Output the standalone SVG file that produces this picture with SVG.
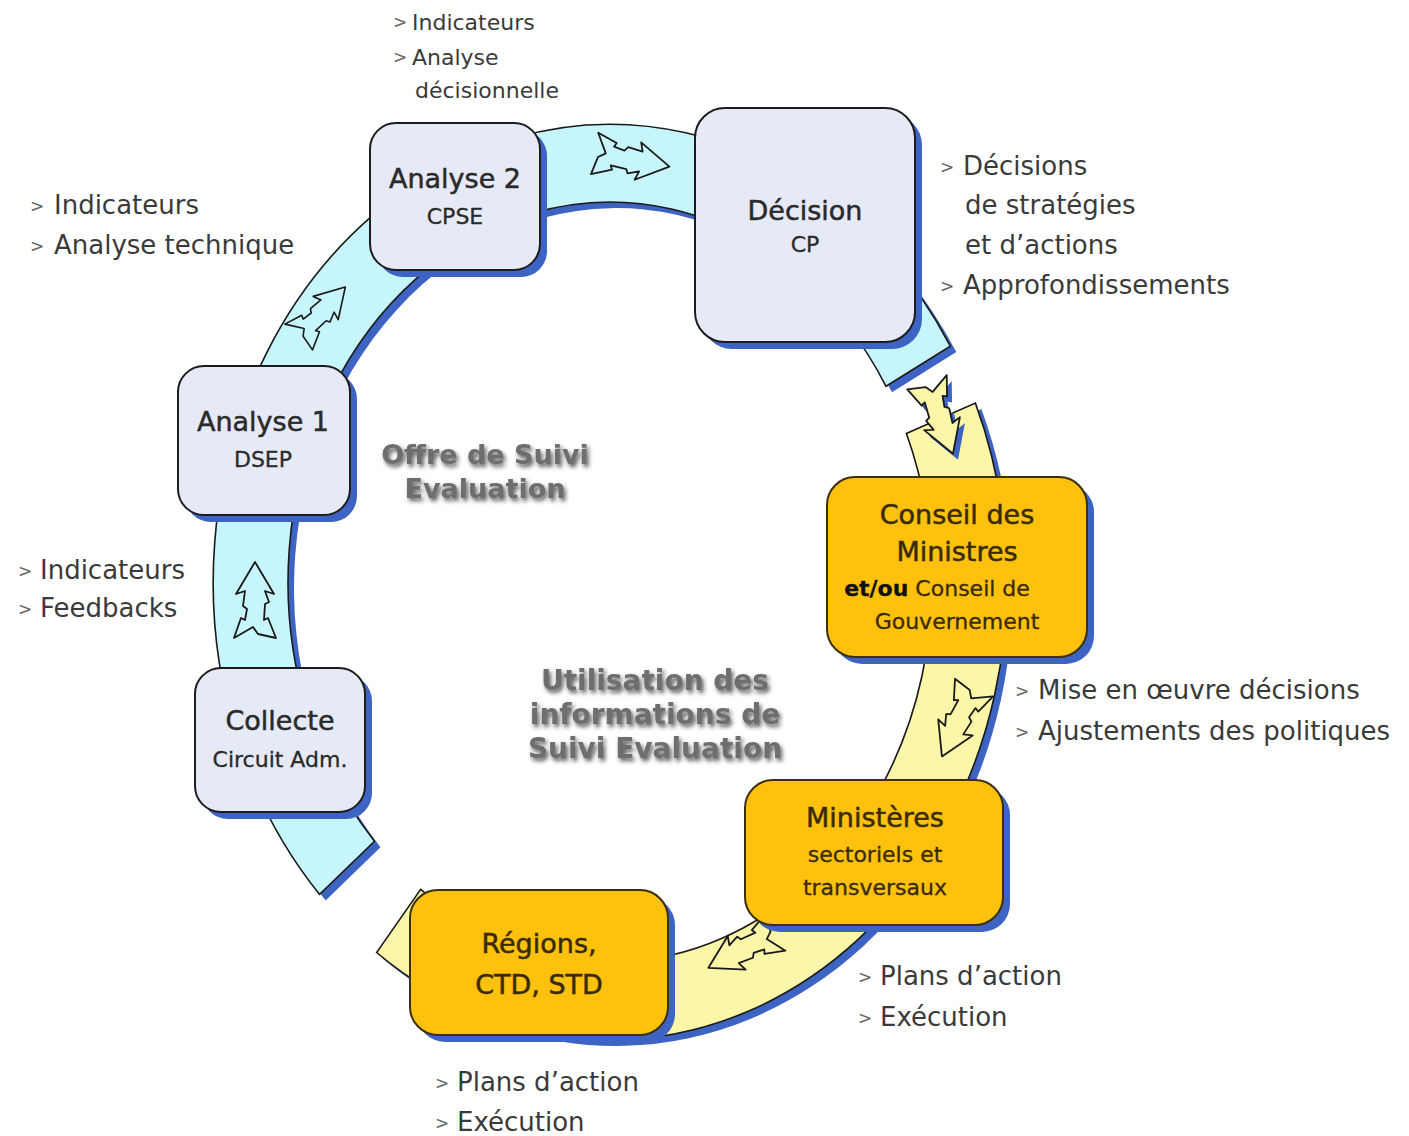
<svg xmlns="http://www.w3.org/2000/svg" width="1409" height="1136" viewBox="0 0 1409 1136">
<defs>
<style>
.lbl{font-family:"DejaVu Sans",sans-serif;fill:#2a2a2a}
.tt{font-size:27px;text-anchor:middle;stroke:#2a2a2a;stroke-width:0.5}
.st{font-size:22px;text-anchor:middle;stroke:#2a2a2a;stroke-width:0.3}
.gt{fill:#3a2a00;stroke:#3a2a00}
.note{font-family:"DejaVu Sans",sans-serif;font-size:26px;fill:#3a3a3a}
.chev{font-family:"DejaVu Sans",sans-serif;font-size:17px;fill:#666}
.ctr{font-family:"DejaVu Sans",sans-serif;font-weight:bold;font-size:28px;fill:#6e6e6e;text-anchor:middle}
.shadow{fill:#3d64c2}
.band-c{fill:#c6f6fc;stroke:#1a1a1a;stroke-width:1.6}
.band-y{fill:#fbf6a8;stroke:#1a1a1a;stroke-width:1.6}
.box-b{fill:#e6eaf6;stroke:#1c1c1c;stroke-width:2}
.box-g{fill:#fdc10e;stroke:#3c3000;stroke-width:2}
.arr{fill:none;stroke:#1a1a1a;stroke-width:1.8;stroke-linejoin:round}
</style>
<path id="arrow" d="M38,0 L6,-19 L9,-10 L-6,-12 L-9,-8 L-20,-10 L-18,-14 L-38,-21 L-27,-2 L-34,3 L-38,21 L-18,13 L-20,9 L-4,10 L-2,14 L9,10 L6,19 Z"/>
<filter id="tshadow" x="-10%" y="-30%" width="120%" height="160%">
<feGaussianBlur in="SourceAlpha" stdDeviation="2.2" result="b"/>
<feOffset in="b" dx="2" dy="3" result="o"/>
<feFlood flood-color="#202020" flood-opacity="0.75"/>
<feComposite in2="o" operator="in" result="s"/>
<feMerge><feMergeNode in="s"/><feMergeNode in="SourceGraphic"/></feMerge>
</filter>
</defs>
<rect width="1409" height="1136" fill="#ffffff"/>

<g id="connectors">
<!-- ring shadows -->
<g transform="translate(6,6)" class="shadow">
<path d="M319.6,894.4 A397,458 0 1 1 950.3,346.1 L886,386.3 A322,380 0 1 0 374.5,841.2 Z"/>
<path d="M975.4,403.1 A397,458 0 0 1 376.6,952.5 L420.7,889.4 A322,380 0 0 0 906.4,433.5 Z"/>
</g>
<!-- cyan band: Collecte to Décision -->
<path class="band-c" d="M319.6,894.4 A397,458 0 1 1 950.3,346.1 L886,386.3 A322,380 0 1 0 374.5,841.2 Z"/>
<!-- yellow band: Décision to Régions -->
<path class="band-y" d="M975.4,403.1 A397,458 0 0 1 376.6,952.5 L420.7,889.4 A322,380 0 0 0 906.4,433.5 Z"/>
<!-- flow arrows -->
<use href="#arrow" class="arr" transform="translate(255,600) rotate(-90)"/>
<use href="#arrow" class="arr" transform="translate(322,312) rotate(-47) scale(0.9)"/>
<use href="#arrow" class="arr" transform="translate(632,160) rotate(10)"/>
<use href="#arrow" class="shadow" transform="translate(945,424) rotate(70)"/>
<use href="#arrow" fill="#fbf6a8" stroke="#1a1a1a" stroke-width="1.8" stroke-linejoin="round" transform="translate(940,418) rotate(70)"/>
<use href="#arrow" class="arr" transform="translate(958,722) rotate(115)"/>
<use href="#arrow" class="arr" transform="translate(742,950) rotate(152)"/>
</g>

<g id="node-analyse2">
<rect class="shadow" x="377" y="130" width="170" height="147" rx="26"/>
<rect class="box-b" x="370" y="123" width="170" height="147" rx="26"/>
<text class="lbl tt" x="455" y="188">Analyse 2</text>
<text class="lbl st" x="455" y="224">CPSE</text>
</g>

<g id="node-decision">
<rect class="shadow" x="702" y="115" width="220" height="234" rx="30"/>
<rect class="box-b" x="695" y="108" width="220" height="234" rx="30"/>
<text class="lbl tt" x="805" y="220">Décision</text>
<text class="lbl st" x="805" y="252">CP</text>
</g>

<g id="node-analyse1">
<rect class="shadow" x="185" y="373" width="172" height="149" rx="26"/>
<rect class="box-b" x="178" y="366" width="172" height="149" rx="26"/>
<text class="lbl tt" x="263" y="431">Analyse 1</text>
<text class="lbl st" x="263" y="467">DSEP</text>
</g>

<g id="node-collecte">
<rect class="shadow" x="202" y="675" width="170" height="144" rx="26"/>
<rect class="box-b" x="195" y="668" width="170" height="144" rx="26"/>
<text class="lbl tt" x="280" y="730">Collecte</text>
<text class="lbl st" x="280" y="767">Circuit Adm.</text>
</g>

<g id="node-conseil">
<rect class="shadow" x="834" y="484" width="260" height="180" rx="28"/>
<rect class="box-g" x="827" y="477" width="260" height="180" rx="28"/>
<text class="lbl tt gt" x="957" y="524">Conseil des</text>
<text class="lbl tt gt" x="957" y="561">Ministres</text>
<text class="lbl st gt" x="937" y="596"><tspan font-weight="bold" fill="#111" stroke="#111">et/ou</tspan> Conseil de</text>
<text class="lbl st gt" x="957" y="629">Gouvernement</text>
</g>

<g id="node-ministeres">
<rect class="shadow" x="752" y="787" width="258" height="145" rx="28"/>
<rect class="box-g" x="745" y="780" width="258" height="145" rx="28"/>
<text class="lbl tt gt" x="875" y="827">Ministères</text>
<text class="lbl st gt" x="875" y="862">sectoriels et</text>
<text class="lbl st gt" x="875" y="895">transversaux</text>
</g>

<g id="node-regions">
<rect class="shadow" x="417" y="897" width="258" height="145" rx="28"/>
<rect class="box-g" x="410" y="890" width="258" height="145" rx="28"/>
<text class="lbl tt gt" x="539" y="953">Régions,</text>
<text class="lbl tt gt" x="539" y="994">CTD, STD</text>
</g>

<g id="center-labels" filter="url(#tshadow)">
<text class="ctr" x="485" y="464" style="font-size:27px">Offre de Suivi</text>
<text class="ctr" x="485" y="498" style="font-size:27px">Evaluation</text>
<text class="ctr" x="655" y="690">Utilisation des</text>
<text class="ctr" x="655" y="724">informations de</text>
<text class="ctr" x="655" y="758">Suivi Evaluation</text>
</g>

<g id="notes">
<text class="chev" x="393" y="28">&gt;</text>
<text class="note" x="412" y="30" style="font-size:22px">Indicateurs</text>
<text class="chev" x="393" y="63">&gt;</text>
<text class="note" x="412" y="65" style="font-size:22px">Analyse</text>
<text class="note" x="415" y="98" style="font-size:22px">décisionnelle</text>

<text class="chev" x="30" y="212">&gt;</text>
<text class="note" x="54" y="214">Indicateurs</text>
<text class="chev" x="30" y="252">&gt;</text>
<text class="note" x="54" y="254">Analyse technique</text>

<text class="chev" x="940" y="173">&gt;</text>
<text class="note" x="963" y="175">Décisions</text>
<text class="note" x="965" y="214">de stratégies</text>
<text class="note" x="965" y="254">et d’actions</text>
<text class="chev" x="940" y="292">&gt;</text>
<text class="note" x="963" y="294">Approfondissements</text>

<text class="chev" x="18" y="577">&gt;</text>
<text class="note" x="40" y="579">Indicateurs</text>
<text class="chev" x="18" y="615">&gt;</text>
<text class="note" x="40" y="617">Feedbacks</text>

<text class="chev" x="1015" y="697">&gt;</text>
<text class="note" x="1038" y="699">Mise en œuvre décisions</text>
<text class="chev" x="1015" y="738">&gt;</text>
<text class="note" x="1038" y="740">Ajustements des politiques</text>

<text class="chev" x="858" y="983">&gt;</text>
<text class="note" x="880" y="985">Plans d’action</text>
<text class="chev" x="858" y="1024">&gt;</text>
<text class="note" x="880" y="1026">Exécution</text>

<text class="chev" x="435" y="1089">&gt;</text>
<text class="note" x="457" y="1091">Plans d’action</text>
<text class="chev" x="435" y="1129">&gt;</text>
<text class="note" x="457" y="1131">Exécution</text>
</g>
</svg>
